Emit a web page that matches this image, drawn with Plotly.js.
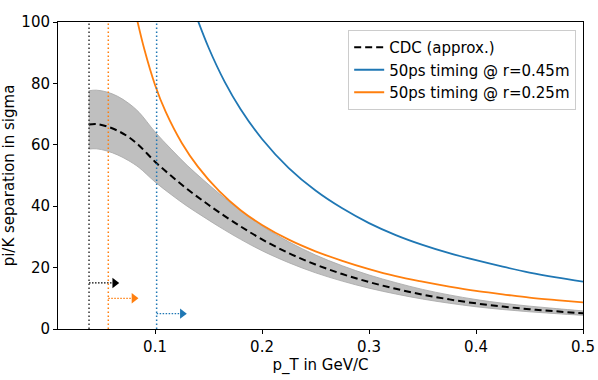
<!DOCTYPE html>
<html>
<head>
<meta charset="utf-8">
<script src="https://cdn.plot.ly/plotly-3.0.1.min.js"></script>
<style>
  html, body { margin: 0; padding: 0; background: #fff; }
  #plot { width: 598px; height: 380px; }
</style>
</head>
<body>
<div id="plot"></div>
<script>
// CDC estimate, with its gray band
let cdcX = [0.038, 0.045, 0.055, 0.065, 0.075, 0.085, 0.1, 0.115, 0.13, 0.145, 0.16, 0.18,
  0.2, 0.225, 0.25, 0.275, 0.3, 0.325, 0.35, 0.375, 0.4, 0.425, 0.45, 0.475, 0.5];
let cdcMid = [66.6, 66.8, 66.0, 64.6, 62.6, 59.8, 54.5, 49.9, 45.6, 41.7, 38.0, 33.4,
  29.2, 24.7, 21.0, 17.9, 15.3, 13.1, 11.2, 9.65, 8.35, 7.3, 6.45, 5.75, 5.1];
let cdcHigh = [77.6, 77.8, 77.2, 75.8, 73.6, 70.6, 64.2, 58.6, 53.3, 48.6, 44.1, 38.6,
  33.6, 28.4, 24.1, 20.6, 17.6, 15.1, 12.9, 11.1, 9.6, 8.4, 7.45, 6.65, 5.9];
let cdcLow = [58.6, 58.7, 58.0, 56.7, 54.9, 52.6, 47.9, 43.8, 40.0, 36.6, 33.3, 29.2,
  25.5, 21.6, 18.3, 15.6, 13.3, 11.4, 9.75, 8.4, 7.25, 6.35, 5.6, 5.0, 4.45];

// 50ps timing @ r=0.45m
let tofFarX = [0.135, 0.15, 0.165, 0.18, 0.2, 0.225, 0.25, 0.275, 0.3, 0.325, 0.35,
  0.375, 0.4, 0.425, 0.45, 0.475, 0.5];
let tofFarY = [105.2, 91.7, 80.6, 71.6, 61.9, 52.4, 45.1, 39.3, 34.5, 30.6, 27.4,
  24.7, 22.4, 20.3, 18.4, 16.8, 15.4];

// 50ps timing @ r=0.25m
let tofNearX = [0.08, 0.09, 0.1, 0.11, 0.125, 0.14, 0.16, 0.18, 0.2, 0.225, 0.25, 0.275,
  0.3, 0.325, 0.35, 0.375, 0.4, 0.425, 0.45, 0.475, 0.5];
let tofNearY = [105.6, 91.1, 79.5, 70.7, 60.6, 52.9, 44.9, 38.7, 33.9, 29.1, 25.3, 22.2,
  19.5, 17.2, 15.4, 13.8, 12.4, 11.3, 10.2, 9.4, 8.7];

// reach thresholds (dotted verticals) and the arrow heights
let cutX = [0.0383, 0.0563, 0.1015];
let cutY = [15, 10, 5];
let cutColor = ['#333333', '#ff7f0e', '#1f77b4'];
let arrowColor = ['#000000', '#ff7f0e', '#1f77b4'];
let arrowLen = 0.0275;

let traces = [];

// band: lower edge first, then upper filled down to it
traces.push({
  x: cdcX, y: cdcLow, mode: 'lines', type: 'scatter',
  line: {color: '#a6a6a6', width: 0.8, shape: 'spline'},
  showlegend: false, hoverinfo: 'skip'
});
traces.push({
  x: cdcX, y: cdcHigh, mode: 'lines', type: 'scatter',
  line: {color: '#a6a6a6', width: 0.8, shape: 'spline'},
  fill: 'tonexty', fillcolor: 'rgba(128,128,128,0.5)',
  showlegend: false, hoverinfo: 'skip'
});

traces.push({
  x: cdcX, y: cdcMid, mode: 'lines', type: 'scatter',
  name: 'CDC (approx.)',
  line: {color: '#000000', width: 2, dash: '7px,4px', shape: 'spline'}
});
traces.push({
  x: tofFarX, y: tofFarY, mode: 'lines', type: 'scatter',
  name: '50ps timing @ r=0.45m',
  line: {color: '#1f77b4', width: 1.8, shape: 'spline'}
});
traces.push({
  x: tofNearX, y: tofNearY, mode: 'lines', type: 'scatter',
  name: '50ps timing @ r=0.25m',
  line: {color: '#ff7f0e', width: 1.8, shape: 'spline'}
});

// dotted verticals + dotted arrows
for (let i = 0; i < cutX.length; i++) {
  traces.push({
    x: [cutX[i], cutX[i]], y: [0, 100], mode: 'lines', type: 'scatter',
    line: {color: cutColor[i], width: 1.5, dash: '1.5px,2.5px'},
    showlegend: false, hoverinfo: 'skip'
  });
  traces.push({
    x: [cutX[i], cutX[i] + arrowLen], y: [cutY[i], cutY[i]],
    mode: 'lines', type: 'scatter',
    line: {color: arrowColor[i], width: 1.2, dash: '1.5px,1.5px'},
    showlegend: false, hoverinfo: 'skip'
  });
  traces.push({
    x: [cutX[i] + arrowLen - 0.0035], y: [cutY[i]],
    mode: 'markers', type: 'scatter',
    marker: {symbol: 'triangle-right', size: 9, color: arrowColor[i]},
    showlegend: false, hoverinfo: 'skip', cliponaxis: false
  });
}

let font = {family: 'DejaVu Sans, sans-serif', size: 15, color: '#000'};

let layout = {
  width: 598,
  height: 380,
  margin: {l: 58, r: 15, t: 22, b: 51},
  paper_bgcolor: '#fff',
  plot_bgcolor: '#fff',
  font: font,
  showlegend: true,
  legend: {
    x: 0.987, y: 0.974, xanchor: 'right', yanchor: 'top',
    traceorder: 'normal',
    bgcolor: '#fff', bordercolor: '#cccccc', borderwidth: 1,
    font: font, itemwidth: 30, tracegroupgap: 0
  },
  xaxis: {
    range: [0.0093, 0.5],
    tickvals: [0.1, 0.2, 0.3, 0.4, 0.5],
    ticktext: ['0.1', '0.2', '0.3', '0.4', '0.5'],
    ticks: 'outside', ticklen: 4, tickwidth: 1, tickcolor: '#000',
    showline: true, mirror: true, linecolor: '#000', linewidth: 1,
    showgrid: false, zeroline: false,
    title: {text: 'p_T in GeV/C', font: font, standoff: 4}
  },
  yaxis: {
    range: [0, 100],
    tickvals: [0, 20, 40, 60, 80, 100],
    ticks: 'outside', ticklen: 4, tickwidth: 1, tickcolor: '#000',
    showline: true, mirror: true, linecolor: '#000', linewidth: 1,
    showgrid: false, zeroline: false,
    title: {text: 'pi/K separation in sigma', font: font, standoff: 6}
  }
};

Plotly.newPlot('plot', traces, layout, {displayModeBar: false, staticPlot: true});
</script>
</body>
</html>
